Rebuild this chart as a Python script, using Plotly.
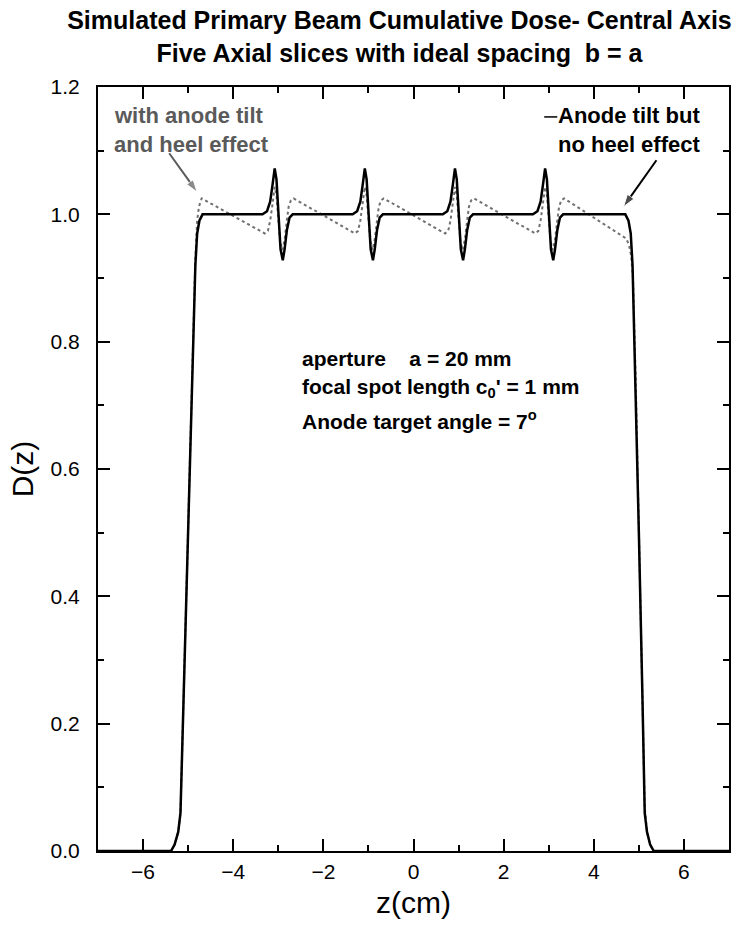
import plotly.graph_objects as go

# ---- data ----
z_solid = [-7.0, -5.38, -5.30, -5.22, -5.17, -5.10, -5.00, -4.90, -4.84, -4.80, -4.75, -4.68,
           -3.35, -3.25, -3.18, -3.13, -3.08, -3.04, -3.01, -2.98, -2.95, -2.90, -2.86, -2.81, -2.75, -2.68,
           -1.35, -1.25, -1.18, -1.13, -1.08, -1.04, -1.01, -0.98, -0.95, -0.90, -0.86, -0.81, -0.75, -0.68,
           0.65, 0.75, 0.82, 0.87, 0.92, 0.96, 0.99, 1.02, 1.05, 1.10, 1.14, 1.19, 1.25, 1.32,
           2.65, 2.75, 2.82, 2.87, 2.92, 2.96, 2.99, 3.02, 3.05, 3.10, 3.14, 3.19, 3.25, 3.32,
           4.70, 4.77, 4.82, 4.86, 4.92, 5.00, 5.08, 5.13, 5.18, 5.25, 5.33, 7.0]
d_solid = [0, 0, 0.01, 0.03, 0.06, 0.24, 0.50, 0.75, 0.92, 0.97, 0.99, 1.0,
           1.0, 1.005, 1.02, 1.045, 1.072, 1.055, 1.02, 0.98, 0.945, 0.928, 0.945, 0.975, 0.995, 1.0,
           1.0, 1.005, 1.02, 1.045, 1.072, 1.055, 1.02, 0.98, 0.945, 0.928, 0.945, 0.975, 0.995, 1.0,
           1.0, 1.005, 1.02, 1.045, 1.072, 1.055, 1.02, 0.98, 0.945, 0.928, 0.945, 0.975, 0.995, 1.0,
           1.0, 1.005, 1.02, 1.045, 1.072, 1.055, 1.02, 0.98, 0.945, 0.928, 0.945, 0.975, 0.995, 1.0,
           1.0, 0.99, 0.97, 0.92, 0.75, 0.50, 0.24, 0.06, 0.03, 0.01, 0, 0]

z_heel = [-7.0, -5.38, -5.30, -5.22, -5.17, -5.10, -5.00, -4.90, -4.84, -4.80, -4.76, -4.70,
          -3.30, -3.23, -3.18, -3.13, -3.08, -3.04, -3.00, -2.96, -2.91, -2.86, -2.81, -2.77, -2.72, -2.66,
          -1.30, -1.23, -1.18, -1.13, -1.08, -1.04, -1.00, -0.96, -0.91, -0.86, -0.81, -0.77, -0.72, -0.66,
          0.70, 0.77, 0.82, 0.87, 0.92, 0.96, 1.00, 1.04, 1.09, 1.14, 1.19, 1.23, 1.28, 1.34,
          2.70, 2.77, 2.82, 2.87, 2.92, 2.96, 3.00, 3.04, 3.09, 3.14, 3.19, 3.23, 3.28, 3.34,
          4.72, 4.78, 4.83, 4.87, 4.93, 5.00, 5.08, 5.13, 5.18, 5.25, 5.33, 7.0]
d_heel = [0, 0, 0.01, 0.03, 0.06, 0.24, 0.50, 0.76, 0.93, 0.99, 1.012, 1.025,
          0.970, 0.974, 0.99, 1.015, 1.043, 1.03, 0.995, 0.958, 0.944, 0.96, 0.99, 1.012, 1.022, 1.025,
          0.970, 0.974, 0.99, 1.015, 1.043, 1.03, 0.995, 0.958, 0.944, 0.96, 0.99, 1.012, 1.022, 1.025,
          0.970, 0.974, 0.99, 1.015, 1.043, 1.03, 0.995, 0.958, 0.944, 0.96, 0.99, 1.012, 1.022, 1.025,
          0.970, 0.974, 0.99, 1.015, 1.043, 1.03, 0.995, 0.958, 0.944, 0.96, 0.99, 1.012, 1.022, 1.025,
          0.962, 0.952, 0.935, 0.90, 0.74, 0.52, 0.25, 0.07, 0.03, 0.01, 0, 0]

title_lines = ["Simulated Primary Beam Cumulative Dose- Central Axis",
               "Five Axial slices with ideal spacing \u00a0b = a"]
x_label = "z(cm)"
y_label = "D(z)"

FONT = "Liberation Sans, Arial, Helvetica, sans-serif"
GRAY = "#5a5a5a"

fig = go.Figure()
fig.add_trace(go.Scatter(x=z_heel, y=d_heel, mode="lines",
                         line=dict(color="#707070", width=2, dash="dot"),
                         name="with anode tilt and heel effect"))
fig.add_trace(go.Scatter(x=z_solid, y=d_solid, mode="lines",
                         line=dict(color="black", width=2.5),
                         name="Anode tilt but no heel effect"))

# arrows (tail -> head) drawn as line + arrow marker
fig.add_trace(go.Scatter(x=[-5.42, -4.80], y=[1.096, 1.035], mode="lines+markers",
                         line=dict(color=GRAY, width=2),
                         marker=dict(symbol="arrow", size=[0, 13], angleref="previous", color=GRAY),
                         hoverinfo="skip"))
fig.add_trace(go.Scatter(x=[5.39, 4.66], y=[1.085, 1.012], mode="lines+markers",
                         line=dict(color="black", width=2),
                         marker=dict(symbol="arrow", size=[0, 13], angleref="previous", color="black"),
                         hoverinfo="skip"))

axis_common = dict(showline=True, linewidth=2, linecolor="black", mirror="ticks",
                   ticks="inside", ticklen=12, tickwidth=2, tickcolor="black",
                   showgrid=False, zeroline=False,
                   tickfont=dict(family=FONT, size=21, color="black"))

fig.update_xaxes(range=[-7, 7], dtick=2, tick0=0,
                 minor=dict(ticks="inside", ticklen=6, tickwidth=2, dtick=1, tickcolor="black"),
                 title=dict(text=x_label, font=dict(family=FONT, size=30, color="black"), standoff=10),
                 ticklabelstandoff=1,
                 **axis_common)
fig.update_yaxes(range=[0, 1.2], dtick=0.2, tick0=0, tickformat=".1f",
                 minor=dict(ticks="inside", ticklen=6, tickwidth=2, dtick=0.1, tickcolor="black"),
                 title=dict(text=y_label, font=dict(family=FONT, size=30, color="black"), standoff=8),
                 ticklabelstandoff=12,
                 **axis_common)

ann = []
def txt(x, y, s, color="black", size=22, anchor="left"):
    ann.append(dict(x=x, y=y, xref="x", yref="y", text="<b>" + s + "</b>", showarrow=False,
                    xanchor=anchor, yanchor="middle",
                    font=dict(family=FONT, size=size, color=color)))

txt(-6.70, 1.156, "with anode tilt", GRAY)
txt(-6.70, 1.109, "and heel effect", GRAY)
txt(3.16, 1.156, "Anode tilt but")
txt(3.16, 1.109, "no heel effect")
txt(-2.52, 0.774, "aperture \u00a0\u00a0\u00a0a = 20 mm", size=21)
txt(-2.52, 0.727, "focal spot length c<sub>0</sub>' = 1 mm", size=21)
txt(-2.52, 0.677, "Anode target angle = 7<sup>o</sup>", size=21)

fig.add_shape(type="line", x0=2.90, x1=3.19, y0=1.153, y1=1.153, xref="x", yref="y",
              line=dict(color="black", width=1.5))

fig.update_layout(
    width=733, height=939,
    margin=dict(l=98, r=2, t=87, b=88),
    paper_bgcolor="white", plot_bgcolor="white",
    showlegend=False,
    annotations=ann,
    title=dict(text="<b>" + title_lines[0] + "<br>" + title_lines[1] + "</b>",
               x=0.545, xanchor="center", xref="container",
               y=1 - 29 / 939, yanchor="middle", yref="container",
               font=dict(family=FONT, size=25, color="black")),
)

fig.write_html("out.html")
